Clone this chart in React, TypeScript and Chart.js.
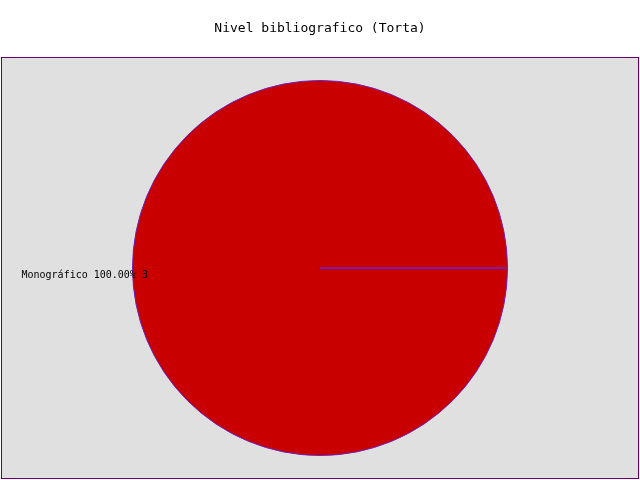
import React, { useEffect, useRef } from "react";
import { Chart, registerables } from "chart.js";

Chart.register(...registerables);

const titleText = "Nivel bibliografico (Torta)";
const categories = ["Monográfico"];
const values = [3];
const sliceColors = ["#c80000"];

const MONO = "'DejaVu Sans Mono', 'Liberation Mono', monospace";

const framePlugin = {
  id: "framePlugin",
  beforeDraw(chart: any) {
    const ctx = chart.ctx;
    ctx.save();
    ctx.fillStyle = "#ffffff";
    ctx.fillRect(0, 0, chart.width, chart.height);
    ctx.fillStyle = "#e0e0e0";
    ctx.fillRect(1, 57, 638, 422);
    ctx.strokeStyle = "#660066";
    ctx.lineWidth = 1;
    ctx.strokeRect(1.5, 57.5, 637, 421);
    ctx.fillStyle = "#000000";
    ctx.font = `13px ${MONO}`;
    ctx.textAlign = "center";
    ctx.textBaseline = "middle";
    ctx.fillText(titleText, 320, 29);
    ctx.restore();
  },
  afterDraw(chart: any) {
    const ctx = chart.ctx;
    const meta = chart.getDatasetMeta(0);
    const total = values.reduce((a, b) => a + b, 0);
    ctx.save();
    meta.data.forEach((arc: any, i: number) => {
      const { x, y, outerRadius, startAngle } = arc.getProps(["x", "y", "outerRadius", "startAngle"], true);
      ctx.strokeStyle = "#7020c0";
      ctx.lineWidth = 1;
      ctx.beginPath();
      ctx.moveTo(x, y + 0.5);
      ctx.lineTo(x + Math.cos(startAngle) * outerRadius, y + Math.sin(startAngle) * outerRadius + 0.5);
      ctx.stroke();
      const pct = ((values[i] / total) * 100).toFixed(2);
      const label = `${categories[i]} ${pct}% ${values[i]}`;
      ctx.fillStyle = "#000000";
      ctx.font = `10px ${MONO}`;
      ctx.textAlign = "left";
      ctx.textBaseline = "middle";
      ctx.fillText(label, x - outerRadius - 111, y + 7);
    });
    ctx.restore();
  },
};

export default function App() {
  const ref = useRef<HTMLCanvasElement | null>(null);
  useEffect(() => {
    if (!ref.current) return;
    const chart = new Chart(ref.current, {
      type: "pie",
      data: {
        labels: categories,
        datasets: [
          {
            data: values,
            backgroundColor: sliceColors,
            borderColor: "#7020c0",
            borderWidth: 1,
          },
        ],
      },
      options: {
        animation: false,
        responsive: false,
        rotation: 90,
        layout: { padding: { top: 80, bottom: 24, left: 0, right: 0 } },
        plugins: {
          legend: { display: false },
          title: { display: false },
          tooltip: { enabled: false },
        },
      },
      plugins: [framePlugin],
    });
    return () => chart.destroy();
  }, []);
  return (
    <div style={{ position: "fixed", left: 0, top: 0, width: 640, height: 480 }}>
      <canvas ref={ref} width={640} height={480} style={{ width: 640, height: 480 }} />
    </div>
  );
}
